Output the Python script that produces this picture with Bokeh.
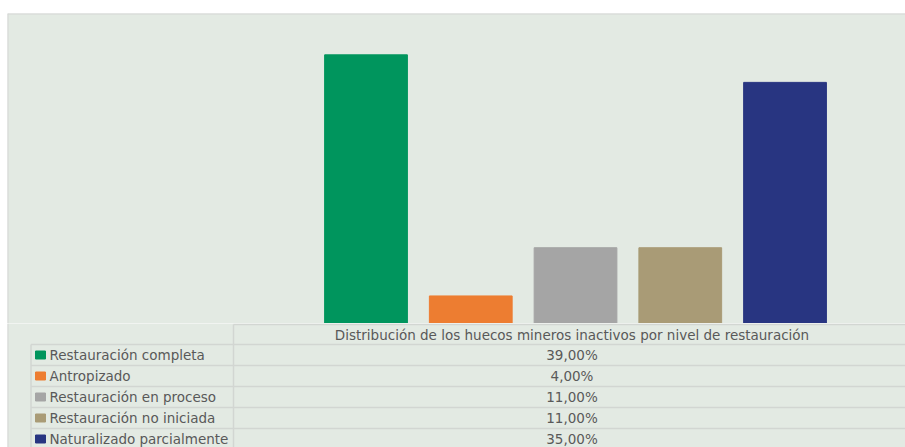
from bokeh.plotting import figure
from bokeh.layouts import column
from bokeh.models import Range1d, Span, ColumnDataSource
from bokeh.core.properties import value
from bokeh.embed import file_html
from bokeh.resources import INLINE

# ---- data ----
series = ["Restauración completa", "Antropizado", "Restauración en proceso",
          "Restauración no iniciada", "Naturalizado parcialmente"]
percent = [39.0, 4.0, 11.0, 11.0, 35.0]
value_labels = ["39,00%", "4,00%", "11,00%", "11,00%", "35,00%"]
colors = ["#00955D", "#ED7D31", "#A5A5A5", "#A99B76", "#283581"]
table_title = "Distribución de los huecos mineros inactivos por nivel de restauración"

# ---- style ----
PANEL = "#E3EAE3"
LINE = "#D2D6D2"
BORDER = "#D6D6D6"
TXT = "#595959"
FONT = value("DejaVu Sans")
FS = "13.5px"
W = 905
PANEL_LEFT = 7

idx = list(range(len(series)))

# ---- bar chart ----
bar = figure(width=W, height=323, output_backend="svg", toolbar_location=None,
             x_range=Range1d(-3.4224, 5.150), y_range=Range1d(0, 45),
             x_axis_type=None, y_axis_type=None,
             min_border_left=PANEL_LEFT, min_border_right=0, min_border_top=13, min_border_bottom=0,
             background_fill_color=PANEL, border_fill_color="white",
             outline_line_color=None)
bar.grid.visible = False
src = ColumnDataSource(dict(x=idx, top=percent, color=colors, name=series))
bar.vbar(x="x", top="top", bottom=0, width=0.79, color="color", source=src)
bar.add_layout(Span(location=45, dimension="width", line_color=BORDER, line_width=2))
bar.add_layout(Span(location=-3.4224, dimension="height", line_color=BORDER, line_width=2))

# ---- data table ----
ROW_H = 21
HEAD_TOP = 324
FIRST_ROW = 344
COL_X = 233
LEFT_X = 30.5
RIGHT_X = 905
rows_top = [FIRST_ROW + ROW_H * i for i in idx]
rows_mid = [t + ROW_H / 2 for t in rows_top]
COL_MID = (COL_X + 910) / 2

tab = figure(width=W, height=124, output_backend="svg", toolbar_location=None,
             x_range=Range1d(PANEL_LEFT, 905), y_range=Range1d(447, 323),
             x_axis_type=None, y_axis_type=None,
             min_border_left=PANEL_LEFT, min_border_right=0, min_border_top=0, min_border_bottom=0,
             background_fill_color=PANEL, border_fill_color="white",
             outline_line_color=None)
tab.grid.visible = False

# horizontal lines
tab.segment(x0=[COL_X], y0=[HEAD_TOP], x1=[RIGHT_X], y1=[HEAD_TOP], line_color=LINE, line_width=1.5)
tab.segment(x0=[LEFT_X] * len(rows_top), y0=rows_top, x1=[RIGHT_X] * len(rows_top), y1=rows_top,
            line_color=LINE, line_width=1.5)
# vertical lines
tab.segment(x0=[COL_X, LEFT_X], y0=[HEAD_TOP, FIRST_ROW], x1=[COL_X, LEFT_X], y1=[447, 447],
            line_color=LINE, line_width=1.5)
tab.add_layout(Span(location=PANEL_LEFT, dimension="height", line_color=BORDER, line_width=2))

# header
tab.text(x=[COL_MID], y=[(HEAD_TOP + FIRST_ROW) / 2], text=[table_title],
         text_font=FONT, text_font_size=FS, text_color=TXT,
         text_align="center", text_baseline="middle")
# legend keys
tab.rect(x=[40] * len(series), y=rows_mid, width=10, height=8, color=colors)
tab.text(x=[49] * len(series), y=rows_mid, text=series,
         text_font=FONT, text_font_size=FS, text_color=TXT,
         text_align="left", text_baseline="middle")
tab.text(x=[COL_MID] * len(series), y=rows_mid, text=value_labels,
         text_font=FONT, text_font_size=FS, text_color=TXT,
         text_align="center", text_baseline="middle")

layout = column(bar, tab, spacing=0)
open("out.html", "w").write(file_html(layout, INLINE))
